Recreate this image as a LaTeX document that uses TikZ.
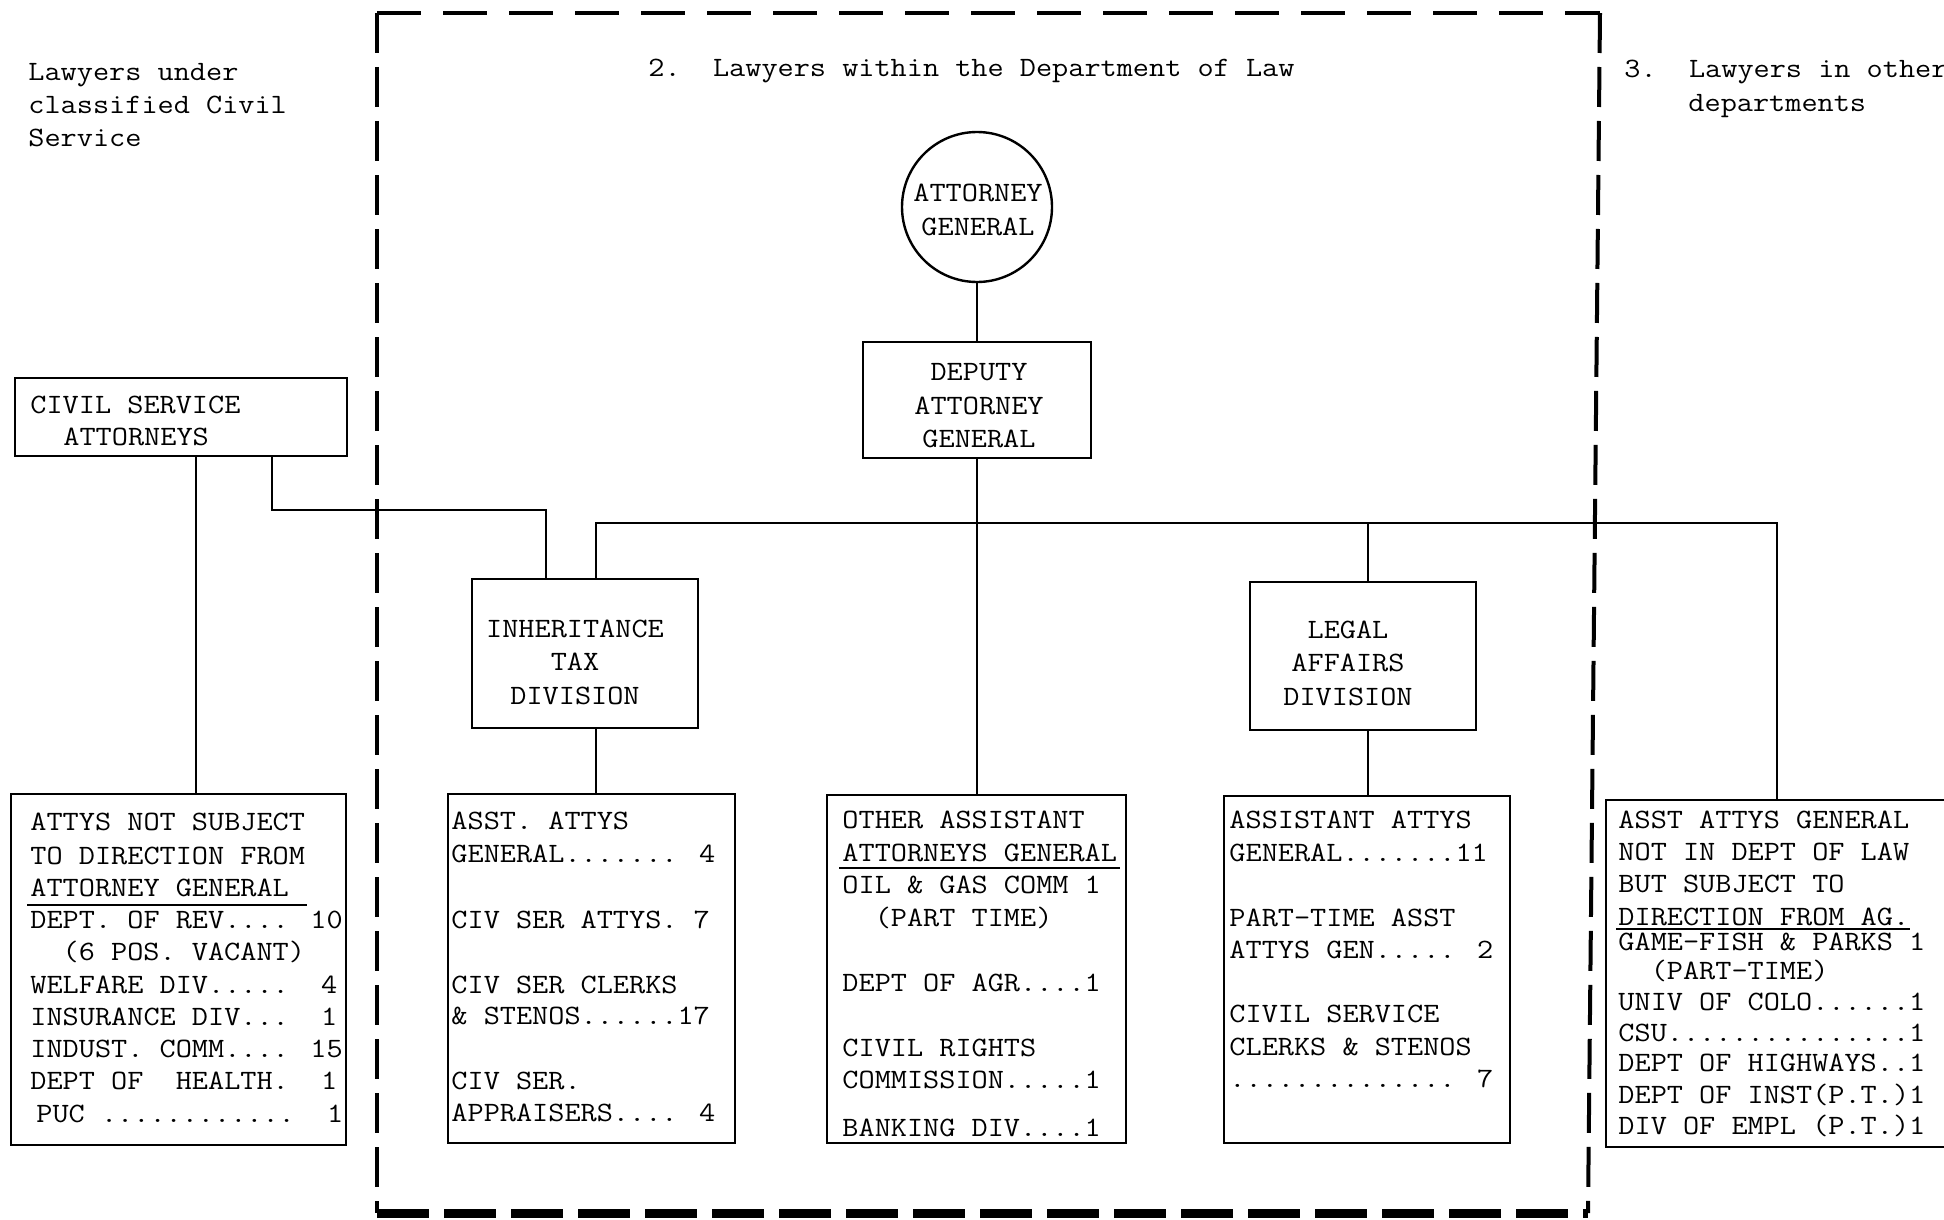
\documentclass[tikz,border=0pt]{standalone}
\usetikzlibrary{fit}
\newcommand\twfont{\fontsize{14pt}{16.75pt}\selectfont\ttfamily}
\tikzset{
 box/.style={draw, line width=1.2pt, inner sep=0pt},
 conn/.style={line width=1.2pt},
 txt/.style={anchor=base west, inner sep=0pt, yshift=-4.3pt, font=\twfont, xscale=1.12, transform shape},
 ctext/.style={align=center, inner sep=0pt, anchor=center, font=\twfont, xscale=1.12, transform shape},
 uline/.style={line width=1pt},
 border/.style={line width=2pt},
}
\newcommand\boxlines[3]{\foreach \yy/\tx [count=\i] in {#3} {\node[txt] (#1\i) at (#2,\yy) {\tx};}}
\begin{document}
\begin{tikzpicture}[x=0.5pt,y=-0.5pt]
\fill[white] (0,0) rectangle (1944,1220);
\useasboundingbox (0,0) rectangle (1944,1220);

% headings
\node[txt] (h1a) at (28,72) {Lawyers under};
\node[txt] (h1b) at (28,105) {classified Civil};
\node[txt] (h1c) at (28,138) {Service};
\node[txt] (h2) at (648,68) {2.~~Lawyers within the Department of Law};
\node[txt] (h3a) at (1624,69) {3.~~Lawyers in other};
\node[txt] (h3b) at (1688,103) {departments};

% dashed boundary of the Department of Law
\draw[border, dash pattern=on 22pt off 11pt] (377,13) -- (1600,13);
\draw[border, dash pattern=on 20pt off 7pt] (377,13) -- (377,1213);
\draw[border, dash pattern=on 20pt off 7pt] (1600,13) -- (1588,1213);
\draw[line width=4.5pt, dash pattern=on 26pt off 7.5pt] (377,1213) -- (1588,1213);

% upper nodes
\node[box, circle, minimum size=75pt] (ag) at (977,207) {};
\node[ctext] (agt) at (978,210) {ATTORNEY\\GENERAL};
\node[box, fit={(863,342) (1091,458)}] (dep) {};
\node[ctext] (dept) at (979,406) {DEPUTY\\ATTORNEY\\GENERAL};
\node[box, fit={(15,378) (347,456)}] (cs) {};
\node[txt] (cs1) at (30,405) {CIVIL SERVICE};
\node[txt] (cs2) at (63,437) {ATTORNEYS};
\node[box, fit={(472,579) (698,728)}] (inh) {};
\node[ctext] (inht) at (575,662) {INHERITANCE\\TAX\\DIVISION};
\node[box, fit={(1250,582) (1476,730)}] (leg) {};
\node[ctext] (legt) at (1348,663) {LEGAL\\AFFAIRS\\DIVISION};

% lower boxes
\node[box, fit={(11,794) (346,1145)}] (A) {};
\node[box, fit={(448,794) (735,1143)}] (B) {};
\node[box, fit={(827,795) (1126,1143)}] (C) {};
\node[box, fit={(1224,796) (1510,1143)}] (D) {};
\node[box, fit={(1606,800) (1970,1147)}] (E) {};

\boxlines{a}{30}{822/{ATTYS NOT SUBJECT}, 856/{TO DIRECTION FROM}, 888/{ATTORNEY GENERAL}, 920/{DEPT. OF REV.... 10}, 952/{~~(6 POS. VACANT)}, 985/{WELFARE DIV.....~~4}, 1017/{INSURANCE DIV...~~1}, 1049/{INDUST. COMM.... 15}, 1081/{DEPT OF~~HEALTH.~~1}}
\node[txt] (a10) at (36,1114) {PUC ............~~1};
\boxlines{b}{451}{821/{ASST. ATTYS}, 854/{GENERAL....... 4}, 920/{CIV SER ATTYS. 7}, 985/{CIV SER CLERKS}, 1016/{\& STENOS......17}, 1081/{CIV SER.}, 1113/{APPRAISERS.... 4}}
\boxlines{c}{842}{820/{OTHER ASSISTANT}, 853/{ATTORNEYS GENERAL}, 885/{OIL \& GAS COMM 1}, 918/{~~(PART TIME)}, 983/{DEPT OF AGR....1}, 1048/{CIVIL RIGHTS}, 1080/{COMMISSION.....1}, 1128/{BANKING DIV....1}}
\boxlines{d}{1229}{820/{ASSISTANT ATTYS}, 853/{GENERAL.......11}, 918/{PART-TIME ASST}, 950/{ATTYS GEN..... 2}, 1014/{CIVIL SERVICE}, 1047/{CLERKS \& STENOS}, 1079/{.............. 7}}
\boxlines{e}{1618}{820/{ASST ATTYS GENERAL}, 852/{NOT IN DEPT OF LAW}, 884/{BUT SUBJECT TO}, 917/{DIRECTION FROM AG.}, 942/{GAME-FISH \& PARKS 1}, 971/{~~(PART-TIME)}, 1002/{UNIV OF COLO......1}, 1033/{CSU...............1}, 1063/{DEPT OF HIGHWAYS..1}, 1095/{DEPT OF INST(P.T.)1}, 1126/{DIV OF EMPL (P.T.)1}}

% underlines
\draw[uline] (27,905) -- (307,905);
\draw[uline] (839,868) -- (1120,868);
\draw[uline] (1616,929) -- (1910,929);

% connectors
\coordinate (bl) at (596,523);
\coordinate (br) at (1777,523);
\coordinate (lx) at (1368,523);
\coordinate (csr) at (272,510);
\coordinate (il) at (546,510);
\coordinate (csl) at (196,600);
\draw[conn] (ag.south) -- (dep.north);
\draw[conn] (dep.south) -- (dep.south |- C.north);
\draw[conn] (bl |- inh.north) -- (bl) -- (br) -- (br |- E.north);
\draw[conn] (lx) -- (lx |- leg.north);
\draw[conn] (bl |- inh.south) -- (bl |- B.north);
\draw[conn] (lx |- leg.south) -- (lx |- D.north);
\draw[conn] (csr |- cs.south) -- (csr) -- (il) -- (il |- inh.north);
\draw[conn] (csl |- cs.south) -- (csl |- A.north);
\end{tikzpicture}
\end{document}
